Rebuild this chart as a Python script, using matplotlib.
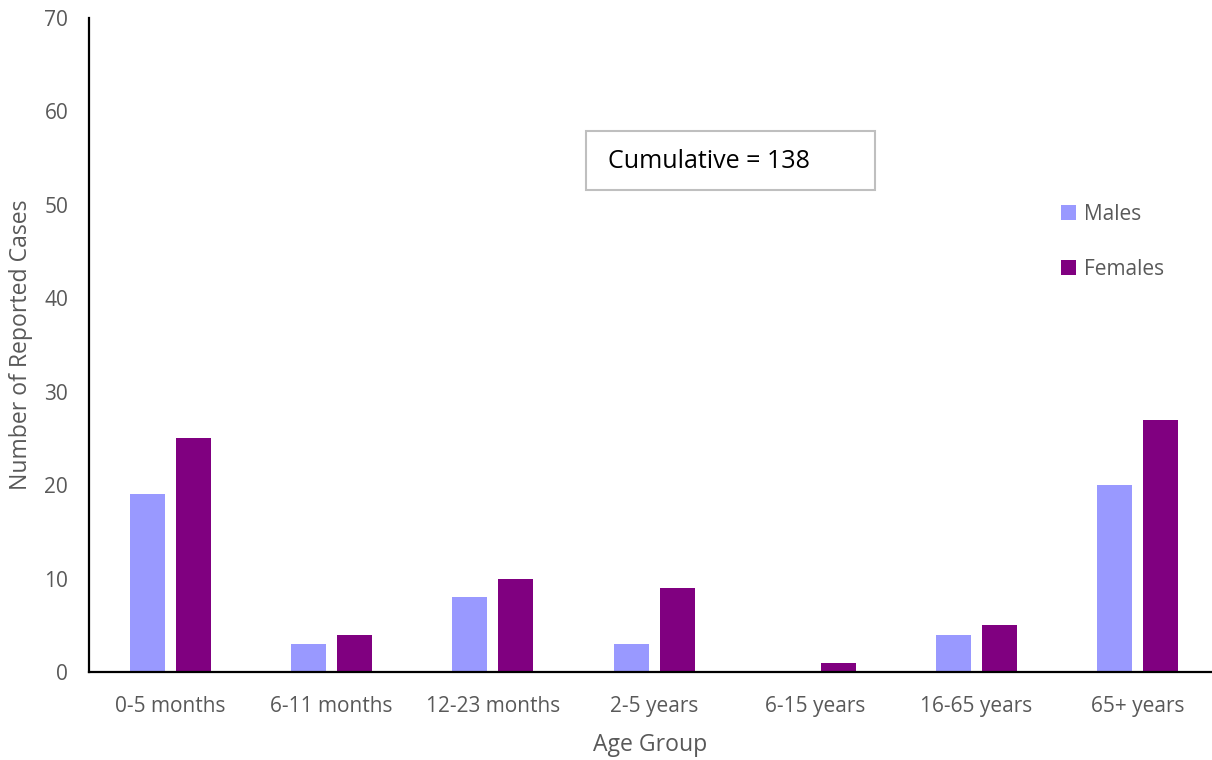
import numpy as np
import matplotlib.pyplot as plt
from matplotlib.patches import Rectangle

plt.rcParams['font.family'] = ['Open Sans', 'DejaVu Sans']

age_groups = ['0-5 months', '6-11 months', '12-23 months', '2-5 years',
              '6-15 years', '16-65 years', '65+ years']
males = [19, 3, 8, 3, 0, 4, 20]
females = [25, 4, 10, 9, 1, 5, 27]
total_cases = sum(males) + sum(females)

text_grey = '#595959'

fig = plt.figure(figsize=(12.12, 7.6), dpi=100)
ax = fig.add_axes([89 / 1212, 88 / 760, 1 - 89 / 1212, 654 / 760])

x = np.arange(len(age_groups))
width = 0.217
offset = 0.143
ax.bar(x - offset, males, width, color='#9999FF', label='Males')
ax.bar(x + offset, females, width, color='#800080', label='Females')

ax.set_xlim(-0.505, 6.46)
ax.set_ylim(0, 70)
ax.set_yticks(range(0, 71, 10))
ax.set_xticks(x)
ax.set_xticklabels(age_groups)
ax.tick_params(axis='both', length=0, labelsize=15, colors=text_grey)
ax.tick_params(axis='x', pad=17)
ax.tick_params(axis='y', pad=15)

for side in ['top', 'right']:
    ax.spines[side].set_visible(False)
ax.spines['left'].set_linewidth(1.6)
ax.spines['bottom'].set_linewidth(1.6)

ax.set_xlabel('Age Group', fontsize=16.6, color=text_grey, labelpad=12)
ax.set_ylabel('Number of Reported Cases', fontsize=16.6, color=text_grey, labelpad=8)

leg = ax.legend(loc='upper left', bbox_to_anchor=(0.849, 0.745), frameon=False,
                fontsize=15, labelspacing=1.64, handlelength=0.7, handleheight=0.7,
                handletextpad=0.4)
for t in leg.get_texts():
    t.set_color(text_grey)

# outlined box with the total count
ax.add_patch(Rectangle((0.4426, 0.737), 0.2574, 0.09, transform=ax.transAxes,
                       facecolor='white', edgecolor='#BFBFBF', linewidth=1.5, zorder=3))
ax.text(0.462, 0.781, f'Cumulative = {total_cases}', transform=ax.transAxes,
        fontsize=18, color='black', va='center', ha='left', zorder=4)

fig.savefig('out.png', dpi=100)
